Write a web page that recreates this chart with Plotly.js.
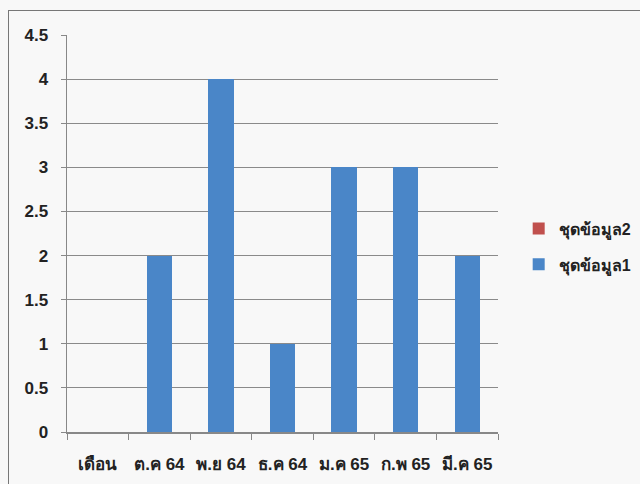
<!DOCTYPE html>
<html>
<head>
<meta charset="utf-8">
<script src="https://cdn.plot.ly/plotly-3.0.1.min.js"></script>
<style>
html,body{margin:0;padding:0;background:#f8f8f8;overflow:hidden;width:640px;height:484px;}
#frame{position:absolute;left:8px;top:10px;width:700px;height:600px;border-left:1.5px solid #777;border-top:1.5px solid #777;}
#chart{position:absolute;left:0;top:0;width:760px;height:484px;}
</style>
</head>
<body>
<div id="frame"></div>
<div id="chart"></div>
<script>
const categories = ["เดือน", "ต.ค 64", "พ.ย 64", "ธ.ค 64", "ม.ค 65", "ก.พ 65", "มี.ค 65"];
const series1 = [0, 2, 4, 1, 3, 3, 2];
const series2 = [0, 0, 0, 0, 0, 0, 0];
const tickVals = [0, 0.5, 1, 1.5, 2, 2.5, 3, 3.5, 4, 4.5];

const font = "Liberation Sans, Noto Sans, sans-serif";

const traces = [
  {type: 'bar', name: 'ชุดข้อมูล1', legendgroup: 'a', legendrank: 2, x: categories, y: series1, marker: {color: '#4a86c8'}},
  {type: 'bar', name: 'ชุดข้อมูล2', legendgroup: 'b', legendrank: 1, x: categories, y: series2, marker: {color: '#c0504d'}}
];

const layout = {
  width: 760, height: 484,
  paper_bgcolor: 'rgba(0,0,0,0)', plot_bgcolor: 'rgba(0,0,0,0)',
  margin: {l: 67, r: 262, t: 35, b: 52},
  barmode: 'stack', bargap: 0.59,
  font: {family: font, color: '#222', size: 17, weight: 'bold'},
  showlegend: true,
  legend: {x: 1.048, y: 0.467, xanchor: 'left', yanchor: 'middle', traceorder: 'grouped',
           font: {size: 16, color: '#222', weight: 'bold'}, itemwidth: 30, tracegroupgap: 12, bgcolor: 'rgba(0,0,0,0)'},
  xaxis: {type: 'category', showgrid: false, showline: true, linecolor: '#888', linewidth: 1.5,
          ticks: 'outside', tickson: 'boundaries', ticklen: 6, tickcolor: '#888', tickangle: 0,
          ticklabelstandoff: 16,
          tickfont: {size: 17, color: '#222', weight: 'bold'}, fixedrange: true},
  yaxis: {range: [0, 4.5], tickvals: tickVals, ticktext: tickVals.map(String),
          showgrid: true, gridcolor: '#8a8a8a', gridwidth: 1.2,
          showline: true, linecolor: '#888', linewidth: 1.5, zeroline: false,
          ticks: 'outside', ticklen: 5, tickcolor: '#888', ticklabelstandoff: 9,
          tickfont: {size: 17, color: '#222', weight: 'bold'}, fixedrange: true}
};

Plotly.newPlot('chart', traces, layout, {displayModeBar: false, staticPlot: true});
</script>
</body>
</html>
